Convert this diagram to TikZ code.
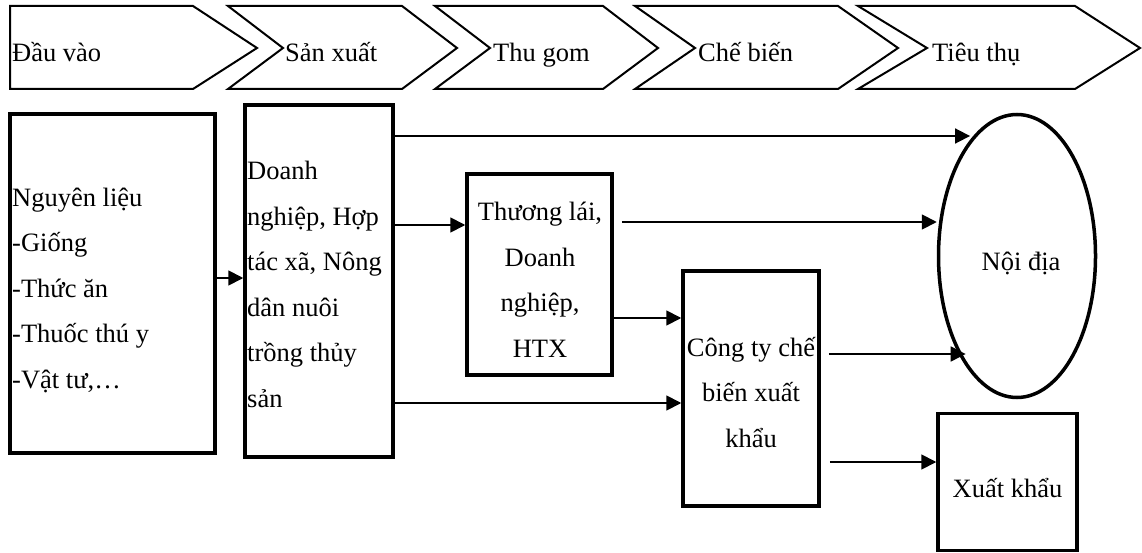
\documentclass[tikz,border=0pt]{standalone}
\usepackage{fontspec}
\setmainfont{Liberation Serif}
\usetikzlibrary{arrows.meta,shapes.geometric,calc}
\begin{document}
\begin{tikzpicture}[x=1pt,y=-1pt,
  box/.style={draw, line width=3.5pt, rectangle, inner sep=0pt},
  lbl/.style={inner sep=0pt, font=\fontsize{26.5}{45.5}\selectfont},
  chev/.style={draw, line width=2pt, line join=miter},
  conn/.style={line width=1.8pt, -{Triangle[length=15pt,width=15pt]}},
]
\useasboundingbox (0,0) rectangle (1142,553);

% chevrons
\draw[chev] (10,6) -- (193,6) -- (257,48) -- (193,89) -- (10,89) -- cycle;
\draw[chev] (228,6) -- (402,6) -- (457,48) -- (402,89) -- (228,89) -- (283,48) -- cycle;
\draw[chev] (435,6) -- (603,6) -- (658,48) -- (603,89) -- (435,89) -- (490,48) -- cycle;
\draw[chev] (635,6) -- (838,6) -- (898,48) -- (838,89) -- (635,89) -- (695,48) -- cycle;
\draw[chev] (858,6) -- (1075,6) -- (1140,48) -- (1075,89) -- (858,89) -- (927,48) -- cycle;

\node[lbl, anchor=base west] (h1) at (12,62) {Đầu vào};
\node[lbl, anchor=base west] (h2) at (285,62) {Sản xuất};
\node[lbl, anchor=base west] (h3) at (493,62) {Thu gom};
\node[lbl, anchor=base west] (h4) at (698,62) {Chế biến};
\node[lbl, anchor=base west] (h5) at (932,62) {Tiêu thụ};

% boxes
\node[box, minimum width=205pt, minimum height=339pt] (b1) at (112.5,283.5) {};
\node[box, minimum width=148pt, minimum height=352pt] (b2) at (319,281) {};
\node[box, minimum width=145pt, minimum height=201pt] (b3) at (539.5,274.5) {};
\node[box, minimum width=136pt, minimum height=235pt] (b4) at (751,388.5) {};
\node[box, minimum width=139pt, minimum height=137pt] (b5) at (1007.5,482) {};
\node[draw, ellipse, line width=3.5pt, inner sep=0pt, minimum width=157pt, minimum height=283pt] (ell) at (1017,256) {};

% texts (anchor base = baseline of the last line)
\node[lbl, anchor=base west, align=left] (t1) at (12,388) {Nguyên liệu\\-Giống\\-Thức ăn\\-Thuốc thú y\\-Vật tư,…};
\node[lbl, anchor=base west, align=left] (t2) at (247,407) {Doanh\\nghiệp, Hợp\\tác xã, Nông\\dân nuôi\\trồng thủy\\sản};
\node[lbl, anchor=base, align=center] (t3) at (540,357) {Thương lái,\\Doanh\\nghiệp,\\HTX};
\node[lbl, anchor=base, align=center] (t4) at (751,447) {Công ty chế\\biến xuất\\khẩu};
\node[lbl, anchor=base] (t5) at (1007.5,497) {Xuất khẩu};
\node[lbl, anchor=base] (t6) at (1021,270) {Nội địa};

% connectors
\draw[conn] (b1.east |- 0,278) -- (b2.west |- 0,278);
\draw[conn] (b2.east |- 0,136) -- (ell.112 |- 0,136);
\draw[conn] (b2.east |- 0,225) -- (b3.west |- 0,225);
\draw[conn] ($(b3.east |- 0,222)+(8,0)$) -- (ell.180 |- 0,222);
\draw[conn] (b3.east |- 0,318) -- (b4.west |- 0,318);
\draw[conn] (b2.east |- 0,403) -- (b4.west |- 0,403);
\draw[conn] ($(b4.east |- 0,354)+(8,0)$) -- (ell.245 |- 0,354);
\draw[conn] ($(b4.east |- 0,462)+(9,0)$) -- (b5.west |- 0,462);
\end{tikzpicture}
\end{document}
